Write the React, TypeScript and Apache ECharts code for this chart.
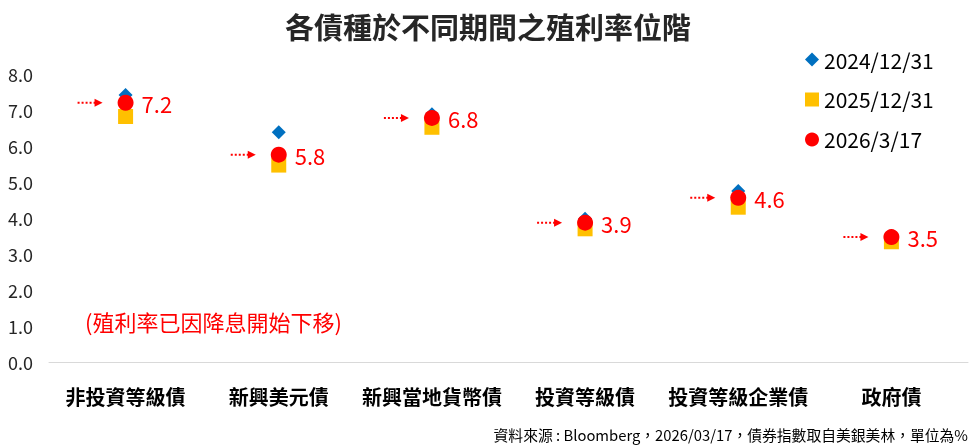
import React, { useEffect, useRef } from "react";
import * as echarts from "echarts";

const categories = ["非投資等級債", "新興美元債", "新興當地貨幣債", "投資等級債", "投資等級企業債", "政府債"];
const y2024 = [7.42, 6.38, 6.88, 3.98, 4.75, 3.5];
const y2025 = [6.82, 5.47, 6.52, 3.7, 4.3, 3.34];
const y2026 = [7.2, 5.76, 6.78, 3.87, 4.56, 3.47];
const seriesNames = ["2024/12/31", "2025/12/31", "2026/3/17"];
const yTicks = [0, 1, 2, 3, 4, 5, 6, 7, 8];
const titleText = "各債種於不同期間之殖利率位階";
const noteText = "(殖利率已因降息開始下移)";
const sourceText = "資料來源 : Bloomberg，2026/03/17，債券指數取自美銀美林，單位為%";

const FONT = "'Microsoft JhengHei', 'Noto Sans CJK TC', 'Noto Sans', sans-serif";

export default function App() {
  const ref = useRef<HTMLDivElement>(null);
  useEffect(() => {
    if (!ref.current) return;
    const chart = echarts.init(ref.current, null, { renderer: "svg" });
    const option: any = {
      animation: false,
      textStyle: { fontFamily: FONT },
      title: {
        text: titleText,
        left: "center",
        top: 6,
        textStyle: { fontSize: 29, fontWeight: "bold", color: "#262626", fontFamily: FONT },
      },
      legend: {
        orient: "vertical",
        left: 800,
        top: 44,
        itemGap: 19,
        itemWidth: 14,
        itemHeight: 14,
        textStyle: { fontSize: 21, color: "#000", fontFamily: FONT },
        data: [
          { name: seriesNames[0], icon: "diamond" },
          { name: seriesNames[1], icon: "rect" },
          { name: seriesNames[2], icon: "circle" },
        ],
      },
      grid: { left: 49, right: 8, top: 74, bottom: 86 },
      xAxis: {
        type: "category",
        data: categories,
        boundaryGap: true,
        axisLine: { lineStyle: { color: "#d9d9d9", width: 1 } },
        axisTick: { show: false },
        axisLabel: { fontSize: 20, color: "#000", fontWeight: "bold", margin: 24, fontFamily: FONT, interval: 0 },
      },
      yAxis: {
        type: "value",
        min: yTicks[0],
        max: yTicks[yTicks.length - 1],
        interval: 1,
        axisLine: { show: false },
        axisTick: { show: false },
        splitLine: { show: false },
        axisLabel: {
          fontSize: 18,
          color: "#262626",
          margin: 16,
          fontFamily: FONT,
          formatter: (v: number) => v.toFixed(1),
        },
      },
      series: [
        {
          name: seriesNames[0],
          type: "scatter",
          symbol: "diamond",
          symbolSize: 14,
          itemStyle: { color: "#0070C0", opacity: 1 },
          data: y2024,
          z: 2,
        },
        {
          name: seriesNames[1],
          type: "scatter",
          symbol: "rect",
          symbolSize: 15,
          itemStyle: { color: "#FFC000", opacity: 1 },
          data: y2025,
          z: 3,
        },
        {
          name: seriesNames[2],
          type: "scatter",
          symbol: "circle",
          symbolSize: 16,
          itemStyle: { color: "#FF0000", opacity: 1 },
          data: y2026,
          z: 4,
          label: {
            show: true,
            position: "right",
            distance: 8,
            fontSize: 22,
            color: "#FF0000",
            fontFamily: FONT,
            formatter: (p: any) => Number(p.value).toFixed(1),
          },
        },
        {
          name: "arrows",
          type: "custom",
          data: y2026.map((v, i) => [i, v]),
          z: 5,
          silent: true,
          renderItem: (params: any, api: any) => {
            const pt = api.coord([api.value(0), api.value(1)]);
            const x = pt[0];
            const y = pt[1];
            return {
              type: "group",
              children: [
                {
                  type: "line",
                  shape: { x1: x - 48, y1: y, x2: x - 30, y2: y },
                  style: { stroke: "#FF0000", lineWidth: 2, lineDash: [2, 2] },
                },
                {
                  type: "polygon",
                  shape: { points: [[x - 31, y - 4], [x - 23, y], [x - 31, y + 4]] },
                  style: { fill: "#FF0000" },
                },
              ],
            };
          },
        },
      ],
      graphic: [
        {
          type: "text",
          left: 85,
          top: 310,
          style: { text: noteText, fontSize: 22, fill: "#FF0000", fontFamily: FONT },
        },
        {
          type: "text",
          right: 8,
          top: 427,
          style: { text: sourceText, fontSize: 14.8, fill: "#000", fontFamily: FONT },
        },
      ],
    };
    chart.setOption(option);
    return () => chart.dispose();
  }, []);
  return <div ref={ref} style={{ position: "fixed", left: 0, top: 0, width: 976, height: 448 }} />;
}
